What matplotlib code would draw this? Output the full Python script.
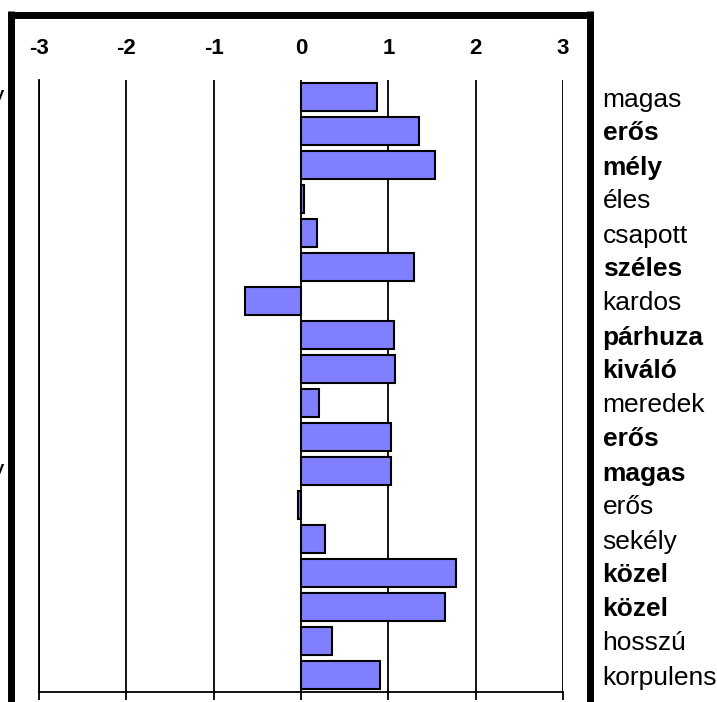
import numpy as np
import matplotlib.pyplot as plt
from matplotlib.lines import Line2D

# data
labels = ["magas", "erős", "mély", "éles", "csapott", "széles", "kardos",
          "párhuza", "kiváló", "meredek", "erős", "magas", "erős", "sekély",
          "közel", "közel", "hosszú", "korpulens"]
bold = [False, True, True, False, False, True, False, True, True, False,
        True, True, False, False, True, True, False, False]
values = [0.87, 1.35, 1.54, 0.04, 0.18, 1.29, -0.64, 1.06, 1.08, 0.21,
          1.03, 1.03, -0.04, 0.27, 1.78, 1.65, 0.35, 0.90]
xticks = [-3, -2, -1, 0, 1, 2, 3]

plt.rcParams['font.family'] = ['Liberation Sans', 'DejaVu Sans']

W, H = 717, 702
fig = plt.figure(figsize=(W / 100, H / 100), dpi=100)
ax = fig.add_axes([39 / W, 10 / H, (563 - 39) / W, (692 - 80) / H])

ypos = np.arange(len(values))
ax.barh(ypos, values, height=0.8, color='#8080FF', edgecolor='black',
        linewidth=1.5, zorder=3)

ax.set_xlim(-3, 3)
ax.set_ylim(len(values) - 0.5, -0.5)
ax.grid(axis='x', color='black', linewidth=1.3, zorder=1)
ax.grid(axis='y', visible=False)

# x labels on top, small tick marks below the bottom axis
ax.tick_params(axis='x', top=False, bottom=True, labeltop=True,
               labelbottom=False, direction='out', length=6, width=1.3,
               pad=9, labelsize=16)
ax.set_xticks(xticks)
ax.set_xticklabels([str(t) for t in xticks])
for tick in ax.xaxis.get_major_ticks():
    tick.label2.set_fontweight('bold')
    tick.label2.set_fontsize(16)

# category names on the right side
ax.yaxis.tick_right()
ax.tick_params(axis='y', right=False, left=False, pad=25)
ax.set_yticks(ypos)
ax.set_yticklabels(labels)
for tick, b in zip(ax.yaxis.get_major_ticks(), bold):
    tick.label2.set_fontsize(19)
    if b:
        tick.label2.set_fontweight('bold')

for s in ['top', 'right']:
    ax.spines[s].set_visible(False)
ax.spines['left'].set_linewidth(1.3)
ax.spines['bottom'].set_linewidth(1.3)

# thick black frame around the chart area
lw = 5
fig.add_artist(Line2D([8 / W, 593 / W], [1 - 14.5 / H, 1 - 14.5 / H],
                      color='black', linewidth=lw, solid_capstyle='butt'))
fig.add_artist(Line2D([11 / W, 11 / W], [0, 1 - 11 / H],
                      color='black', linewidth=lw, solid_capstyle='butt'))
fig.add_artist(Line2D([589.5 / W, 589.5 / W], [0, 1 - 11 / H],
                      color='black', linewidth=lw, solid_capstyle='butt'))

# cut-off letters at the left edge
for yy in [0, 11]:
    fig.text(4 / W, 1 - (80 + 34 * (yy + 0.5)) / H, "y", fontsize=19,
             ha='right', va='center')

fig.savefig("out.png", dpi=100)
